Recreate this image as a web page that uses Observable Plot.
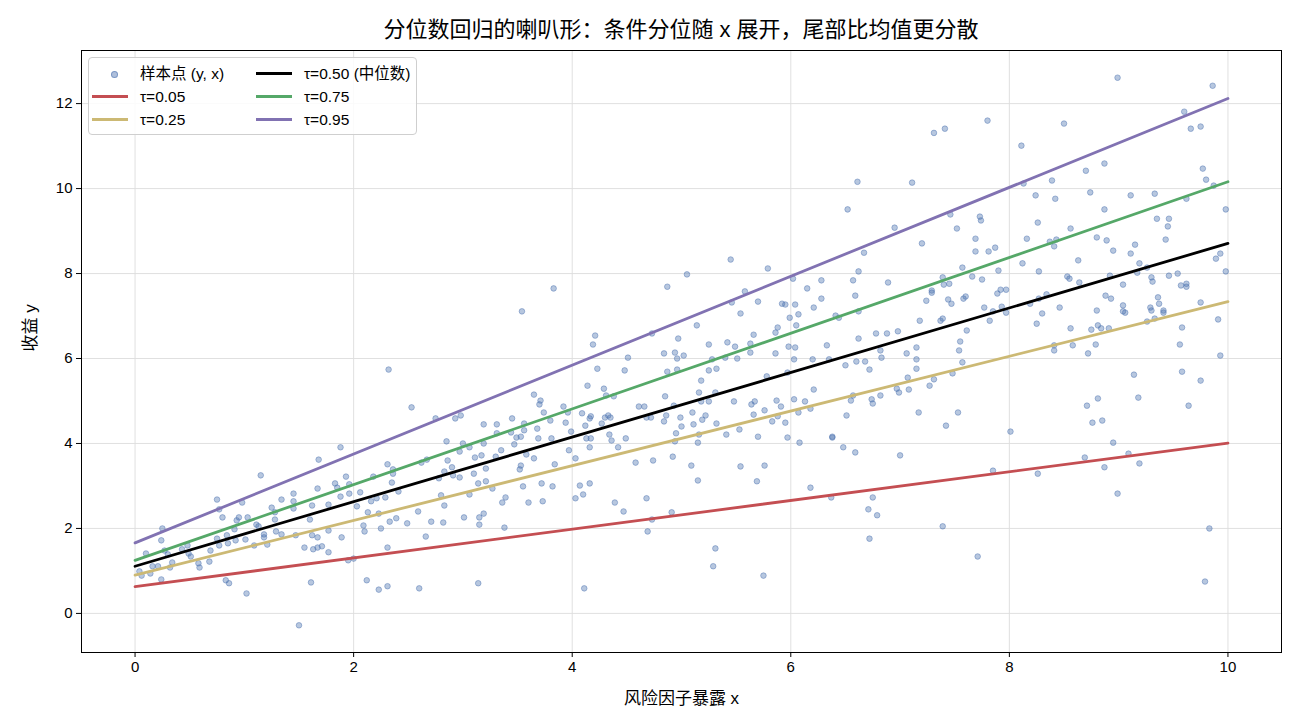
<!DOCTYPE html>
<html>
<head>
<meta charset="utf-8">
<script src="https://cdn.jsdelivr.net/npm/d3@7"></script>
<script src="https://cdn.jsdelivr.net/npm/@observablehq/plot@0.6"></script>
<style>
  html, body { margin: 0; padding: 0; background: #fff; }
  #wrap { position: relative; width: 1300px; height: 728px; font-family: "Liberation Sans", "Noto Sans CJK SC", sans-serif; }
  #title { height: 40px; box-sizing: border-box; padding-top: 18px; padding-left: 62px; line-height: 24px; font-size: 22px; text-align: center; color: #000; white-space: nowrap; }
  #legend { position: absolute; left: 88px; top: 57px; width: 329px; height: 78px; box-sizing: border-box;
            border: 1px solid #cfcfcf; border-radius: 4px; background: rgba(255,255,255,0.85); font-size: 15.5px; color: #000; }
  .item { position: absolute; height: 20px; line-height: 20px; white-space: nowrap; }
  .sw { position: absolute; top: 8px; width: 36px; height: 3px; }
  .dotsw { position: absolute; top: 7px; left: 19px; width: 5px; height: 5px; border-radius: 50%; background: rgba(76,114,176,0.45); border: 1px solid rgba(76,114,176,0.55); }
  .lab { position: absolute; left: 48px; top: 0; }
</style>
</head>
<body>
<div id="wrap">
  <div id="title"></div>
  <div id="chart"></div>
  <div id="legend"></div>
</div>
<script>
// ---- data ----
const titleText = "分位数回归的喇叭形：条件分位随 x 展开，尾部比均值更分散";
const xLabel = "风险因子暴露 x";
const yLabel = "收益 y";
const xTicks = [0, 2, 4, 6, 8, 10];
const yTicks = [0, 2, 4, 6, 8, 10, 12];

// quantile regression lines: value at x = 0 and at x = 10
const tauNames = ["τ=0.05", "τ=0.25", "τ=0.50 (中位数)", "τ=0.75", "τ=0.95"];
const tauStart = [0.63, 0.90, 1.11, 1.25, 1.66];
const tauEnd = [4.01, 7.34, 8.71, 10.16, 12.12];
const tauColors = ["#C44E52", "#CCB974", "#000000", "#55A868", "#8172B2"];
const lineX = [0, 10];
const sampleName = "样本点 (y, x)";

// sample points [x, y]
const samplePoints = [
[0.10,1.41],[0.24,1.72],[0.25,2.00],[0.24,0.80],[0.06,0.89],[0.04,0.99],[0.14,0.94],[0.16,1.11],[0.21,1.11],[0.32,1.08],
[0.34,1.20],[0.27,1.48],[0.30,1.39],[0.43,1.51],[0.48,1.60],[0.49,1.41],[0.51,1.34],[0.58,1.18],[0.59,1.08],[0.68,1.22],
[0.69,1.48],[0.75,2.68],[0.77,2.45],[0.80,2.26],[0.75,1.76],[0.77,1.60],[0.85,1.65],[0.84,1.84],[0.91,1.98],[0.92,1.72],
[0.93,2.19],[0.95,2.26],[0.98,2.61],[1.03,2.26],[1.01,1.74],[1.09,1.60],[1.11,2.09],[1.13,2.05],[1.18,1.86],[1.18,1.79],
[1.21,1.62],[1.15,3.25],[1.25,2.49],[1.28,2.38],[1.28,2.21],[1.34,2.68],[1.29,1.93],[1.34,1.86],[1.45,2.82],[1.45,2.64],
[1.45,2.47],[1.47,1.84],[1.55,1.55],[1.60,2.21],[1.62,2.54],[1.62,1.84],[1.63,1.51],[1.67,1.79],[1.67,1.55],[1.71,1.58],
[1.67,2.94],[1.68,3.62],[1.77,1.95],[1.77,2.56],[1.77,1.44],[1.83,3.06],[1.85,2.96],[1.88,2.75],[1.89,1.79],[1.93,3.22],
[1.96,3.04],[1.96,2.82],[1.95,1.25],[2.00,1.29],[2.03,2.52],[2.06,2.85],[2.09,2.07],[2.10,1.93],[2.13,2.38],[2.12,0.78],
[2.16,2.64],[2.18,3.22],[2.21,2.71],[2.23,2.35],[2.23,0.56],[2.25,2.00],[1.61,0.73],[1.02,0.47],[0.83,0.78],[0.86,0.71],
[1.50,-0.28],[1.88,3.91],
[2.32,5.74],[2.53,4.85],[2.75,4.59],[2.93,4.59],[2.98,4.66],[2.85,4.05],[3.00,4.00],[3.06,3.91],[3.19,4.45],[3.19,4.00],
[3.31,4.45],[3.31,4.24],[3.35,3.84],[3.45,4.59],[3.44,4.26],[3.47,3.98],[3.49,4.14],[3.53,4.16],[3.56,4.31],[3.56,4.47],
[3.54,7.11],[3.83,7.65],[3.65,5.15],[3.71,5.01],[3.70,4.92],[3.74,4.73],[3.68,4.35],[3.69,4.12],[3.80,4.54],[3.81,4.12],
[3.92,4.87],[3.94,4.49],[3.96,4.73],[3.99,4.28],[3.97,3.84],[4.09,4.71],[4.12,4.42],[4.14,5.36],[4.17,4.64],[4.16,4.59],
[4.17,4.12],[4.13,4.12],[4.16,3.91],[4.19,6.33],[4.21,6.54],[4.23,5.76],[4.29,5.29],[4.31,5.13],[4.38,5.11],[4.27,4.47],
[4.30,4.61],[4.33,4.66],[4.35,4.61],[4.34,4.21],[4.36,4.07],[4.42,3.91],[4.49,4.12],[4.51,6.02],[4.48,5.72],[4.61,4.87],
[4.66,4.87],[4.68,4.61],[4.72,4.61],[4.73,6.59],[4.87,7.69],[4.84,6.12],[4.94,6.14],[4.96,6.00],[4.97,6.47],[4.87,5.69],
[4.96,5.74],[4.85,5.11],[4.93,4.89],[4.86,4.66],[4.84,4.52],[4.99,4.61],[4.95,4.24],[4.94,4.05],
[2.31,3.51],[2.36,3.39],[2.36,3.29],[2.35,3.08],[2.29,2.73],[2.41,2.87],[2.33,2.16],[2.39,2.24],[2.49,2.12],[2.31,1.55],
[2.31,0.64],[2.59,2.40],[2.60,0.59],[2.66,1.81],[2.71,2.16],[2.62,3.55],[2.67,3.62],[2.78,3.18],[2.80,2.78],[2.83,2.54],
[2.82,2.14],[2.83,3.34],[2.86,3.60],[2.90,3.44],[2.91,3.25],[2.97,3.20],[2.97,3.81],[3.01,2.26],[3.06,2.80],[3.10,3.29],
[3.11,3.67],[3.17,3.72],[3.14,3.06],[3.15,2.26],[3.15,2.09],[3.19,2.35],[3.14,0.71],[3.21,3.41],[3.21,3.11],[3.27,2.94],
[3.30,3.69],[3.36,2.61],[3.39,2.73],[3.38,2.02],[3.52,3.39],[3.53,3.48],[3.55,2.99],[3.58,3.74],[3.60,2.61],[3.65,3.65],
[3.72,3.06],[3.73,2.64],[3.82,2.99],[3.84,3.51],[4.03,3.65],[4.03,2.71],[4.07,3.01],[4.10,2.80],[4.16,3.06],[4.11,0.59],
[4.39,2.61],[4.47,2.40],[4.58,3.55],[4.68,2.71],[4.74,3.60],[4.73,2.21],[4.69,1.93],[4.91,2.38],[4.92,3.69],
[5.05,7.98],[5.45,8.33],[5.79,8.12],[5.58,7.58],[5.46,7.32],[5.54,7.06],[5.70,7.34],[5.14,6.78],[5.66,6.56],[5.42,6.38],
[5.25,6.33],[5.49,6.28],[5.63,6.35],[5.86,6.61],[5.88,6.73],[5.92,7.29],[5.95,7.27],[6.04,7.27],[6.07,7.04],[5.99,6.96],
[6.05,6.78],[6.02,7.88],[6.15,7.65],[6.28,7.84],[6.28,7.41],[6.21,7.20],[5.98,6.28],[6.04,6.26],[6.33,6.31],[6.41,7.01],
[6.44,6.96],[6.52,9.51],[6.61,10.16],[6.67,8.49],[6.62,8.05],[6.57,7.84],[6.59,7.48],[6.62,7.11],[6.62,6.47],[6.78,6.59],
[6.88,6.59],[6.98,6.64],[6.89,7.79],[6.95,9.08],[7.11,10.14],[7.20,8.71],[7.24,7.36],[7.29,7.60],[7.29,7.55],[7.18,6.89],
[7.37,6.89],[7.39,6.94],[7.39,7.91],[7.40,7.74],[7.45,7.76],[7.44,7.39],[7.47,7.29],[7.58,7.41],[7.60,7.46],[7.57,8.14],
[7.66,7.93],[7.61,6.66],[7.55,6.40],[7.46,9.39],[7.52,9.06],[7.69,8.82],[7.69,8.52],[7.73,9.34],[7.74,9.25],[7.15,6.26],
[7.54,6.19],[7.31,11.31],[7.41,11.41],
[5.02,6.07],[5.28,5.98],[5.40,6.02],[5.51,6.00],[5.63,6.14],[5.86,6.12],[5.25,5.72],[5.32,5.76],[5.18,5.48],[5.16,5.20],
[5.31,5.20],[5.18,4.99],[5.25,4.99],[5.10,4.73],[5.22,4.66],[5.19,4.56],[5.11,4.45],[5.00,4.40],[5.32,4.47],[5.16,4.21],
[5.15,4.02],[5.41,4.21],[5.48,4.99],[5.53,4.33],[5.64,4.92],[5.67,4.99],[5.66,4.68],[5.70,4.16],[5.76,4.78],[5.78,5.58],
[5.83,4.52],[5.87,5.01],[5.91,4.87],[5.88,4.64],[5.95,4.49],[5.97,4.14],[5.97,5.67],[6.03,5.98],[6.03,5.04],[6.07,4.73],
[6.08,4.02],[6.13,4.99],[6.18,4.82],[6.21,5.27],[6.20,5.98],[6.35,5.98],[6.38,4.16],[6.38,4.14],[6.48,3.91],[6.51,4.66],
[6.50,5.84],[6.55,5.01],[6.57,5.13],[6.59,3.79],[6.60,5.93],[6.68,5.93],[6.72,5.74],[6.74,5.04],[6.75,4.94],[6.82,5.13],
[6.83,6.02],[6.82,6.19],[6.97,5.29],[6.99,5.20],[7.00,3.72],[7.06,6.12],[7.08,5.27],[7.07,5.55],[7.15,5.98],[7.15,5.76],
[7.17,4.73],[7.27,5.36],[7.31,5.51],[7.42,4.42],[7.48,5.65],[7.53,4.73],[7.57,5.91],[5.09,3.48],[5.15,3.13],[5.54,3.46],
[5.76,3.48],[5.69,3.11],[6.18,2.96],[6.37,2.73],[6.75,2.73],[6.71,2.45],[6.79,2.31],[6.72,1.76],[7.39,2.05],[5.31,1.53],
[5.29,1.11],[5.75,0.89],[7.71,1.34],
[7.80,11.60],[8.50,11.53],[8.99,12.61],[9.86,12.42],[9.60,11.81],[9.66,11.41],[9.75,11.46],[8.11,11.01],[8.70,10.42],[8.87,10.59],
[8.13,10.12],[8.39,10.19],[9.77,10.47],[9.80,10.21],[9.87,10.07],[8.24,9.84],[8.42,9.76],[8.74,9.91],[9.11,9.84],[9.33,9.88],
[9.62,9.76],[8.87,9.51],[9.98,9.51],[8.26,9.20],[8.56,9.06],[9.35,9.29],[9.46,9.29],[9.45,9.11],[8.16,8.82],[8.37,8.75],
[8.43,8.80],[8.41,8.64],[8.80,8.85],[8.89,8.78],[9.15,8.68],[9.43,8.80],[7.87,8.61],
[7.81,8.52],[8.12,8.24],[8.27,8.05],[7.90,8.07],[7.75,7.86],[8.63,8.31],[8.53,7.93],[8.55,7.88],[8.64,7.79],[7.89,7.53],
[7.92,7.62],[7.97,7.62],[7.77,7.20],[7.85,7.11],[7.93,7.22],[7.97,7.08],[7.82,6.89],[8.19,7.29],[8.27,7.41],[8.34,7.51],
[8.30,7.06],[8.25,6.82],[8.46,7.20],[8.56,6.71],[8.41,6.31],[8.41,6.19],[8.58,6.31],[8.72,6.12],[8.79,6.33],[8.75,6.68],
[8.81,6.78],[8.84,6.71],[8.91,6.71],[8.80,7.13],[8.88,7.48],[8.93,7.41],[8.92,7.95],[8.95,8.54],[9.04,7.74],[9.04,7.25],
[9.04,7.11],[9.06,7.08],[9.11,8.47],[9.17,8.02],[9.19,8.24],[9.26,8.14],[9.30,7.91],[9.31,7.81],[9.36,7.44],[9.37,7.29],
[9.29,7.20],[9.30,7.13],[9.26,6.87],[9.33,6.94],[9.41,7.13],[9.41,7.08],[9.46,7.95],[9.54,8.00],[9.57,7.72],[9.62,7.76],
[9.62,7.69],[9.58,6.73],[9.56,6.33],[9.75,7.32],[9.89,8.35],[9.93,8.47],[9.98,8.05],[9.91,6.92],[9.93,6.07],[9.58,5.69],
[9.75,5.48],[9.14,5.62],[9.18,5.08],[9.64,4.89],[8.71,4.89],[8.81,5.06],[8.76,4.49],[8.85,4.54],[8.01,4.28],[8.95,4.02],
[9.09,3.76],[7.85,3.36],[8.26,3.29],[8.69,3.67],[8.87,3.44],[9.19,3.53],[8.99,2.82],[9.83,2.00],[9.79,0.75]
];

// ---- build the line table from the named arrays ----
const lineTable = [];
tauNames.forEach((name, i) => {
  lineTable.push({tau: name, x: lineX[0], y: tauStart[i], color: tauColors[i]});
  lineTable.push({tau: name, x: lineX[1], y: tauEnd[i], color: tauColors[i]});
});

document.getElementById("title").textContent = titleText;

const fontFam = '"Liberation Sans", "Noto Sans CJK SC", sans-serif';
const chart = Plot.plot({
  width: 1300,
  height: 688,
  marginLeft: 81,
  marginRight: 19,
  marginTop: 10,
  marginBottom: 76,
  style: {fontFamily: fontFam, fontSize: "15px", color: "#000", background: "#fff"},
  x: {domain: [-0.49, 10.49], ticks: xTicks, tickSize: 5, tickPadding: 4, label: null, tickFormat: d => String(d)},
  y: {domain: [-0.92, 13.25], ticks: yTicks, tickSize: 5, tickPadding: 4, label: null, tickFormat: d => String(d)},
  marks: [
    Plot.ruleX(xTicks, {x: d => d, stroke: "#dcdcdc", strokeWidth: 0.9}),
    Plot.ruleY(yTicks, {y: d => d, stroke: "#dcdcdc", strokeWidth: 0.9}),
    Plot.dot(samplePoints, {x: d => d[0], y: d => d[1], r: 2.8, fill: "#4C72B0", fillOpacity: 0.4,
                            stroke: "#4C72B0", strokeOpacity: 0.45, strokeWidth: 1}),
    Plot.line(lineTable, {x: "x", y: "y", z: "tau", stroke: "color", strokeWidth: 2.8}),
    Plot.frame({stroke: "#000", strokeWidth: 1}),
    Plot.text([xLabel], {frameAnchor: "bottom", text: d => d, dy: 46, fontSize: 17, lineAnchor: "middle"}),
    Plot.text([yLabel], {frameAnchor: "left", text: d => d, dx: -51, rotate: -90, fontSize: 17, lineAnchor: "middle"})
  ]
});
document.getElementById("chart").appendChild(chart);

// ---- legend ----
const legend = document.getElementById("legend");
const legendItems = [{kind: "dot", label: sampleName}].concat(
  tauNames.map((n, i) => ({kind: "line", label: n, color: tauColors[i]})));
// two columns, three rows (column-major as in the reference)
legendItems.forEach((it, i) => {
  const col = Math.floor(i / 3), row = i % 3;
  const el = document.createElement("div");
  el.className = "item";
  el.style.left = (col === 0 ? 3 : 167) + "px";
  el.style.top = (6 + row * 23) + "px";
  if (it.kind === "dot") {
    const d = document.createElement("div"); d.className = "dotsw"; el.appendChild(d);
  } else {
    const s = document.createElement("div"); s.className = "sw"; s.style.background = it.color; el.appendChild(s);
  }
  const t = document.createElement("span"); t.className = "lab"; t.textContent = it.label; el.appendChild(t);
  legend.appendChild(el);
});
</script>
</body>
</html>
